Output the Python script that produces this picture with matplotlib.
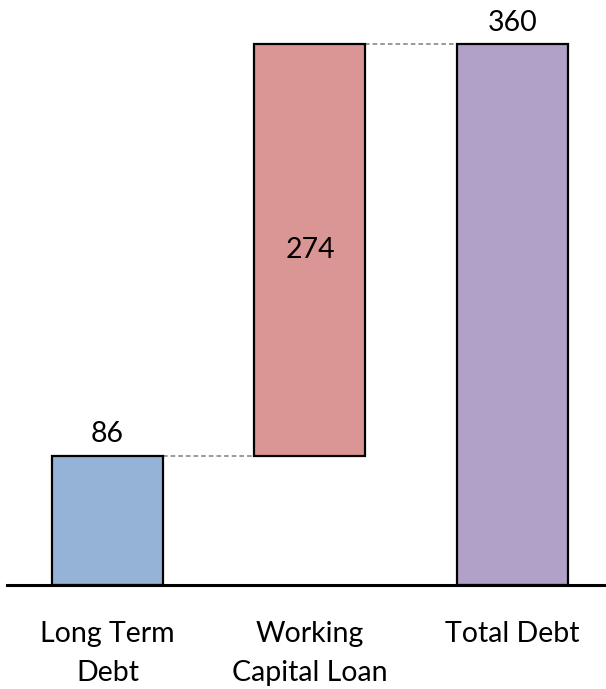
import matplotlib
matplotlib.use("Agg")
import matplotlib.pyplot as plt

categories = ["Long Term\nDebt", "Working\nCapital Loan", "Total Debt"]
values = [86, 274, 360]
colors = ["#95B3D7", "#DA9694", "#B1A0C7"]

plt.rcParams['font.family'] = ['Lato', 'DejaVu Sans']

fig = plt.figure(figsize=(6.06, 6.89), dpi=100)
W, H = 606, 689
base_px = 585
scale = 541 / 360.0
ytop = 380
ax = fig.add_axes([7 / W, (H - base_px) / H, 598 / W, ytop * scale / H])

x = [0, 1, 2]
bottoms = [0, values[0], 0]
heights = [values[0], values[1], values[2]]
width = 0.548
ax.bar(x, heights, bottom=bottoms, width=width, color=colors,
       edgecolor="black", linewidth=1.6, zorder=3)

ax.set_xlim(-0.496, 2.457)
ax.set_ylim(0, ytop)

# connectors
ax.plot([x[0] + width / 2, x[1] - width / 2], [values[0], values[0]],
        ls=(0, (3, 2)), color="#7f7f7f", lw=1.1, zorder=2)
ax.plot([x[1] + width / 2, x[2] - width / 2], [values[2], values[2]],
        ls=(0, (3, 2)), color="#7f7f7f", lw=1.1, zorder=2)

# value labels
fs = 20.5
ax.annotate(str(values[0]), (x[0], values[0]), xytext=(0, 6), textcoords="offset points",
            ha="center", va="bottom", fontsize=fs)
ax.text(x[1], values[0] + values[1] / 2, str(values[1]), ha="center", va="center", fontsize=fs)
ax.annotate(str(values[2]), (x[2], values[2]), xytext=(0, 6), textcoords="offset points",
            ha="center", va="bottom", fontsize=fs, annotation_clip=False)

ax.set_xticks(x)
ax.set_xticklabels(categories, fontsize=fs, linespacing=1.6)
ax.tick_params(axis="x", length=0, pad=26)
ax.set_yticks([])
for s in ["top", "right", "left"]:
    ax.spines[s].set_visible(False)
ax.spines["bottom"].set_linewidth(2.2)
ax.spines["bottom"].set_zorder(4)

fig.savefig("out.png", dpi=100)
